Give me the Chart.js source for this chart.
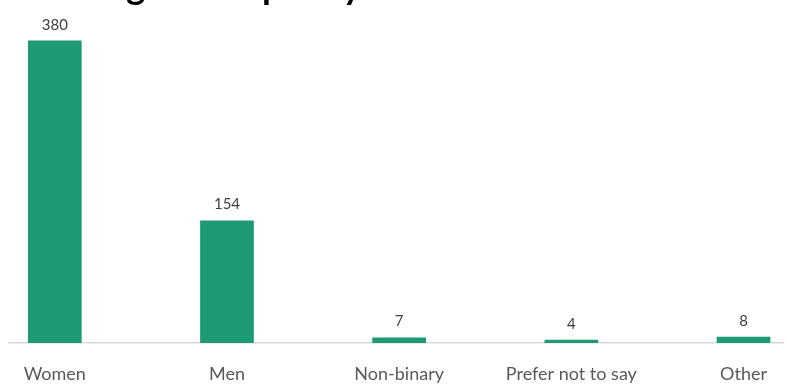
<!DOCTYPE html>
<html>
<head>
<meta charset="utf-8">
<script src="https://cdn.jsdelivr.net/npm/chart.js@4.4.1/dist/chart.umd.min.js"></script>
<style>
  html, body { margin: 0; padding: 0; background: #fff; overflow: hidden; }
  #wrap { position: relative; width: 787px; height: 385px; }
</style>
</head>
<body>
<div id="wrap"><canvas id="genderChart" width="787" height="385"></canvas></div>
<script>
const categories = ['Women', 'Men', 'Non-binary', 'Prefer not to say', 'Other'];
const counts = [380, 154, 7, 4, 8];
const titleText = 'Overall gender split by number';

const BAR_COLOR = '#1f9a77';
const TEXT_COLOR = '#595959';
const FONT = 'Lato, "Open Sans", sans-serif';

// title sits mostly above the canvas edge, only the descenders show
const titlePlugin = {
  id: 'cutTitle',
  afterDraw(chart) {
    const ctx = chart.ctx;
    ctx.save();
    ctx.font = 'bold 36px ' + FONT;
    ctx.fillStyle = '#000';
    ctx.textBaseline = 'alphabetic';
    const lead = ctx.measureText('Overall gender s').width;
    ctx.fillText(titleText, 262 - lead, -1);
    ctx.restore();
  }
};

// value labels above each bar
const valueLabels = {
  id: 'valueLabels',
  afterDatasetsDraw(chart) {
    const ctx = chart.ctx;
    const meta = chart.getDatasetMeta(0);
    ctx.save();
    ctx.font = '15px ' + FONT;
    ctx.fillStyle = '#404040';
    ctx.textAlign = 'center';
    ctx.textBaseline = 'alphabetic';
    meta.data.forEach((bar, i) => {
      ctx.fillText(String(counts[i]), bar.x, bar.y - 11);
    });
    ctx.restore();
  }
};

new Chart(document.getElementById('genderChart'), {
  type: 'bar',
  data: {
    datasets: [{
      data: counts.map((v, i) => ({ x: i, y: v })),
      backgroundColor: BAR_COLOR,
      borderWidth: 0,
      barPercentage: 0.312,
      categoryPercentage: 1
    }]
  },
  options: {
    responsive: false,
    animation: false,
    layout: { padding: { left: 9, right: 0, top: 0, bottom: 0 } },
    plugins: {
      legend: { display: false },
      tooltip: { enabled: false }
    },
    scales: {
      x: {
        type: 'linear',
        offset: false,
        min: -0.266,
        max: 4.231,
        grid: { display: false, drawTicks: false },
        border: { display: true, color: '#d9d9d9', width: 1.5 },
        afterBuildTicks: (axis) => { axis.ticks = categories.map((_, i) => ({ value: i })); },
        afterFit: (axis) => { axis.height = 42; },
        ticks: {
          autoSkip: false,
          maxRotation: 0,
          padding: 20,
          color: TEXT_COLOR,
          font: { family: FONT, size: 18 },
          callback: (v) => categories[v] ?? ''
        }
      },
      y: {
        display: false,
        min: 0,
        max: 431
      }
    }
  },
  plugins: [titlePlugin, valueLabels]
});
</script>
</body>
</html>
